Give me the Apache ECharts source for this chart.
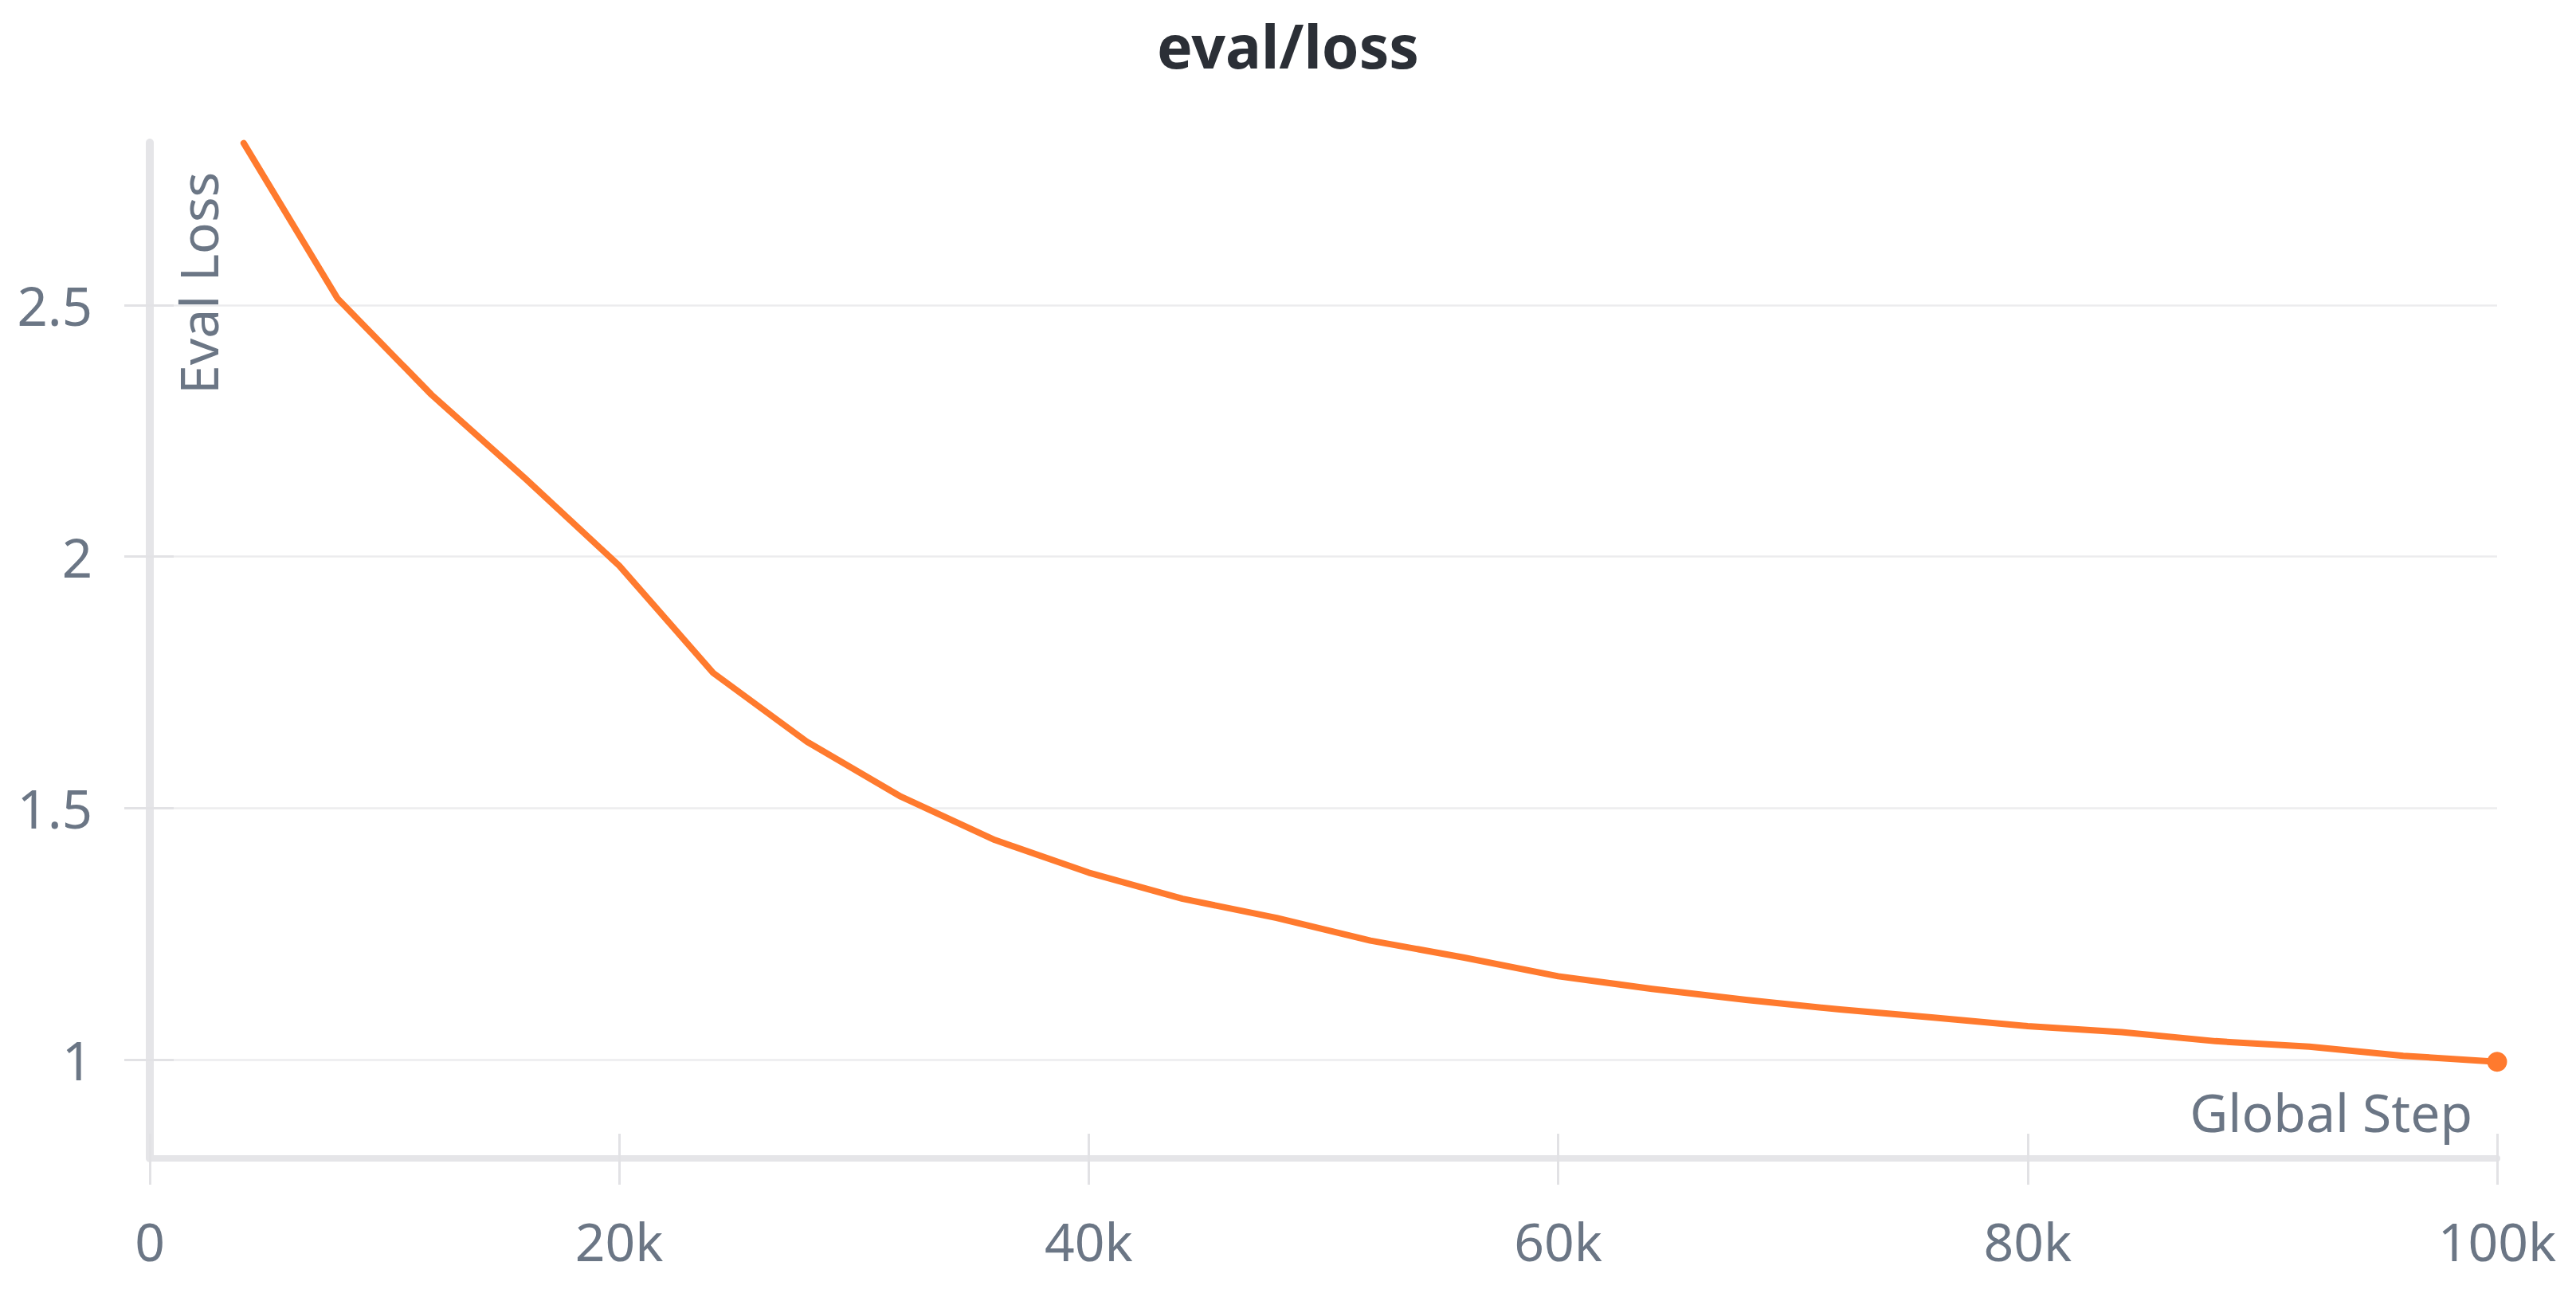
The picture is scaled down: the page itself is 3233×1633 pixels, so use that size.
<!DOCTYPE html>
<html>
<head>
<meta charset="utf-8">
<script src="https://cdn.jsdelivr.net/npm/echarts@6/dist/echarts.min.js"></script>
<style>
html,body{margin:0;padding:0;background:#ffffff;}
#chart{width:3233px;height:1633px;}
</style>
</head>
<body>
<div id="chart"></div>
<script>
// ---- data ----
const steps = [4000, 8000, 12000, 16000, 20000, 24000, 28000, 32000, 36000, 40000,
               44000, 48000, 52000, 56000, 60000, 64000, 68000, 72000, 76000, 80000,
               84000, 88000, 92000, 96000, 100000];
const evalLoss = [2.822, 2.513, 2.322, 2.155, 1.982, 1.769, 1.632, 1.523, 1.437, 1.372,
                  1.320, 1.282, 1.237, 1.203, 1.166, 1.141, 1.119, 1.100, 1.084, 1.067,
                  1.055, 1.037, 1.026, 1.008, 0.996];
const xTickValues = [0, 20000, 40000, 60000, 80000, 100000];
const xTickLabels = ['0', '20k', '40k', '60k', '80k', '100k'];
const yTickValues = [1, 1.5, 2, 2.5];
const yTickLabels = ['1', '1.5', '2', '2.5'];
const yRange = [0.804, 2.823];
const xRange = [0, 100000];
const chartTitle = 'eval/loss';
const xAxisName = 'Global Step';
const yAxisName = 'Eval Loss';

// ---- styles ----
const FONT = '"Noto Sans", "Open Sans", sans-serif';
const LABEL_COLOR = '#6b7685';
const AXIS_COLOR = '#e5e5e8';
const TICK_COLOR = '#e2e2e5';
const GRID_COLOR = '#ececee';
const LINE_COLOR = '#ff7a2e';

const chart = echarts.init(document.getElementById('chart'), null, {renderer: 'svg'});

const seriesData = steps.map((s, i) => [s, evalLoss[i]]);
const lastIndex = steps.length - 1;

const option = {
  backgroundColor: '#ffffff',
  animation: false,
  title: {
    text: chartTitle,
    left: 'center',
    top: 14,
    textStyle: {fontFamily: FONT, fontSize: 75, fontWeight: 'bold', color: '#2b2f36'}
  },
  grid: {left: 188, right: 99, top: 179, bottom: 179, containLabel: false},
  xAxis: [
    {
      type: 'value', position: 'bottom', min: xRange[0], max: xRange[1], interval: 20000,
      axisLine: {show: true, lineStyle: {color: AXIS_COLOR, width: 8}},
      axisTick: {show: true, inside: false, length: 33, lineStyle: {color: TICK_COLOR, width: 3}},
      axisLabel: {
        show: true, margin: 70, fontFamily: FONT, fontSize: 66, color: LABEL_COLOR,
        formatter: v => { const k = xTickValues.indexOf(v); return k >= 0 ? xTickLabels[k] : ''; }
      },
      splitLine: {show: false}
    },
    {
      type: 'value', position: 'bottom', min: xRange[0], max: xRange[1], interval: 20000,
      axisLine: {show: false},
      axisTick: {show: true, inside: true, length: 31, lineStyle: {color: TICK_COLOR, width: 3}},
      axisLabel: {show: false},
      splitLine: {show: false}
    }
  ],
  yAxis: [
    {
      type: 'value', position: 'left', min: yRange[0], max: yRange[1],
      axisLine: {show: true, lineStyle: {color: AXIS_COLOR, width: 10}},
      axisTick: {show: true, inside: false, length: 32, customValues: yTickValues,
                 lineStyle: {color: TICK_COLOR, width: 3}},
      axisLabel: {
        show: true, margin: 72, fontFamily: FONT, fontSize: 67, color: LABEL_COLOR,
        customValues: yTickValues,
        formatter: v => { const k = yTickValues.indexOf(v); return k >= 0 ? yTickLabels[k] : ''; }
      },
      splitLine: {show: true, lineStyle: {color: GRID_COLOR, width: 2.5}}
    },
    {
      type: 'value', position: 'left', min: yRange[0], max: yRange[1],
      axisLine: {show: false},
      axisTick: {show: true, inside: true, length: 30, customValues: yTickValues,
                 lineStyle: {color: TICK_COLOR, width: 3}},
      axisLabel: {show: false},
      splitLine: {show: false}
    }
  ],
  graphic: [
    {
      type: 'text', x: 3103, y: 1428, silent: true,
      style: {text: xAxisName, font: '66px ' + FONT, fill: LABEL_COLOR, align: 'right', verticalAlign: 'bottom'}
    },
    {
      type: 'text', x: 215, y: 495, rotation: Math.PI / 2, silent: true,
      style: {text: yAxisName, font: '66px ' + FONT, fill: LABEL_COLOR, align: 'left', verticalAlign: 'top'}
    }
  ],
  series: [
    {
      type: 'line', xAxisIndex: 0, yAxisIndex: 0,
      data: seriesData,
      smooth: false,
      showSymbol: true,
      symbol: 'circle',
      symbolSize: (v, p) => (p.dataIndex === lastIndex ? 25 : 0),
      itemStyle: {color: LINE_COLOR},
      lineStyle: {color: LINE_COLOR, width: 8, cap: 'round', join: 'round'},
      clip: false
    }
  ]
};
chart.setOption(option);
</script>
</body>
</html>
